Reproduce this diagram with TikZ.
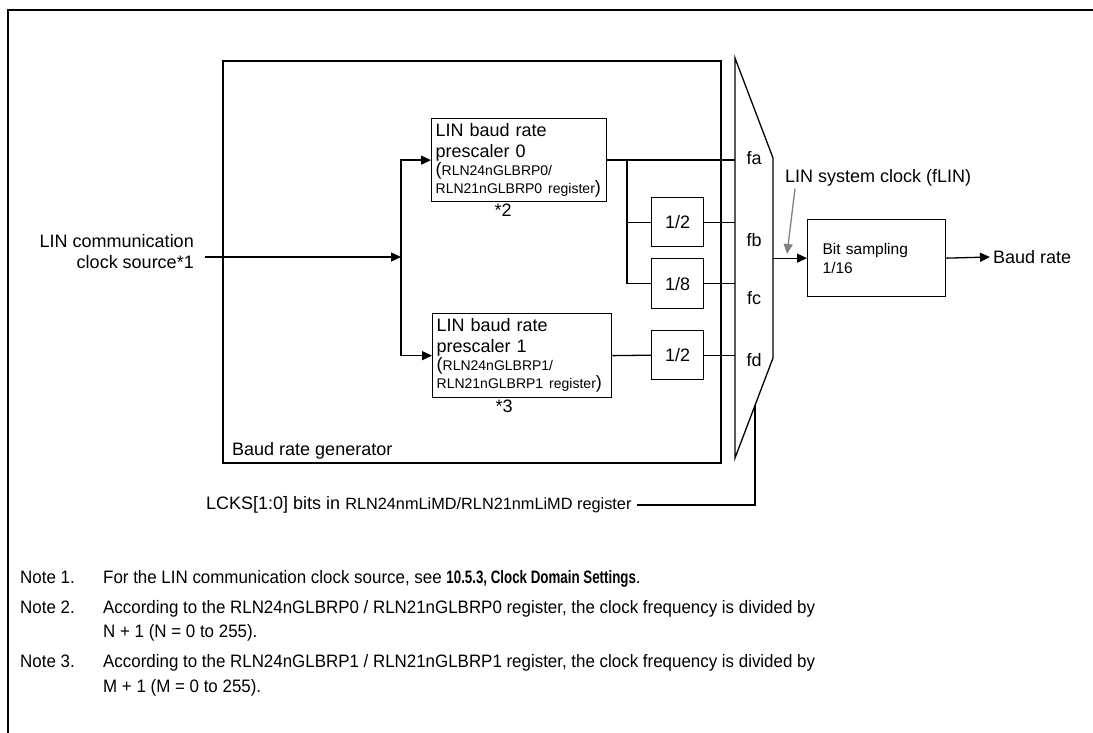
\documentclass[tikz,border=0pt]{standalone}
\usepackage{fontspec}
\setmainfont{Liberation Sans}
\newfontfamily\narrowfont[FakeStretch=0.94]{Liberation Sans}
\newfontfamily\narrowbold[FakeStretch=0.74]{Liberation Sans}
\usetikzlibrary{arrows.meta, positioning, math}
\newcommand\regsize{\fontsize{14}{17}\selectfont}

\begin{document}
\begin{tikzpicture}[x=1pt, y=-1pt,
  font=\fontsize{18}{21}\selectfont,
  blk/.style={draw, line width=1.3pt, inner sep=0pt, anchor=north west},
  wire/.style={line width=1.3pt},
  arr/.style={wire, -{Triangle[length=10pt, width=9pt]}},
  note/.style={anchor=base west, inner sep=0pt, font=\narrowfont\fontsize{18}{21}\selectfont}]
\tikzmath{
\mL=735; \mR=773;
}
\useasboundingbox (0,0) rectangle (1093,733);

% outer frame (top and left only)
\draw[line width=2.5pt] (8,733) -- (8,10) -- (1093,10);

%%%%%%%%%% baud rate generator
\draw[wire] (223,61) rectangle (721,463);
\node[anchor=base west, inner sep=0pt] (genlbl) at (232,455) {Baud rate generator};

\node[blk, minimum width=171, minimum height=83, text width=167, inner xsep=4pt, align=left] (pre0) at (431,118)
  {LIN baud rate\\ prescaler 0\\[-3pt] ({\regsize RLN24nGLBRP0/}\\[-3pt] {\regsize RLN21nGLBRP0 register})};
\node[below=1pt of pre0, xshift=-16pt, inner sep=0pt] (st2) {*2};

\node[blk, minimum width=175, minimum height=84, text width=171, inner xsep=4pt, align=left] (pre1) at (432,313)
  {LIN baud rate\\ prescaler 1\\[-3pt] ({\regsize RLN24nGLBRP1/}\\[-3pt] {\regsize RLN21nGLBRP1 register})};
\node[below=1pt of pre1, xshift=-18pt, inner sep=0pt] (st3) {*3};

\node[blk, minimum width=52, minimum height=49] (div2a) at (651,197) {1/2};
\node[blk, minimum width=52, minimum height=50] (div8) at (651,258) {1/8};
\node[blk, minimum width=52, minimum height=49] (div2b) at (651,330) {1/2};

%%%%%%%%%% selector
\draw[wire] (\mL,58) coordinate (muxtl) -- (\mR,158) -- (\mR,358) -- (\mL,458) -- cycle;
\node (fa) at (754,158) {fa};
\node (fb) at (754,240) {fb};
\node (fc) at (754,298) {fc};
\node (fd) at (754,360) {fd};
\coordinate (muxout) at (\mR,257);
\coordinate (sel) at (755,405);

%%%%%%%%%% input side
\node[anchor=east, align=right, inner sep=0pt] (src) at (194,252) {LIN communication\\ clock source*1};
\coordinate (jin) at (401,257);
\draw[arr] ([xshift=11pt]src.east |- jin) -- (jin);
\draw[arr] (jin) |- (pre0.west);
\draw[arr] (jin) |- (pre1.west);

%%%%%%%%%% dividers
\coordinate (jdiv) at (627,159.5);
\draw[wire] (pre0.east) -- (pre0.east -| muxtl);
\draw[wire] (jdiv) |- (div8.west);
\draw[wire] (jdiv |- div2a.west) -- (div2a.west);
\draw[wire] (div2a.east) -- (div2a.east -| muxtl);
\draw[wire] (div8.east) -- (div8.east -| muxtl);
\draw[wire] (pre1.east) -- (div2b.west);
\draw[wire] (div2b.east) -- (div2b.east -| muxtl);

%%%%%%%%%% bit sampling
\node[blk, minimum width=138, minimum height=77, text width=138, inner xsep=0pt, align=left,
  font=\fontsize{15.5}{19}\selectfont] (bit) at (807,219) {\hspace*{15pt}Bit sampling\\ \hspace*{15pt}1/16};
\draw[arr] (muxout |- bit.west) -- (bit.west);
\node[anchor=west, inner sep=3pt] (rate) at (990,257) {Baud rate};
\draw[arr] (bit.east) -- (rate.west);

\node[anchor=west, inner sep=2pt] (flbl) at (783,178) {LIN system clock (fLIN)};
\coordinate (flin) at (787,254);
\draw[line width=1.3pt, gray, -{Triangle[length=10pt, width=9pt]}] ([xshift=12pt]flbl.south west) -- (flin);

%%%%%%%%%% select bits
\node[anchor=west, inner sep=0pt] (lcks) at (206,505) {LCKS[1:0] bits in {\fontsize{16.3}{18}\selectfont RLN24nmLiMD/RLN21nmLiMD register}};
\draw[wire] ([xshift=5pt]lcks.east) -| (sel);

%%%%%%%%%% notes
\node[note] (n1) at (20,583) {Note 1.};
\node[note] (n1t) at (103,583) {For the LIN communication clock source, see {\narrowbold\bfseries 10.5.3, Clock Domain Settings}.};
\node[note] (n2) at (20,613) {Note 2.};
\node[note] (n2t) at (103,613) {According to the RLN24nGLBRP0 / RLN21nGLBRP0 register, the clock frequency is divided by};
\node[note] (n2u) at (103,637) {N + 1 (N = 0 to 255).};
\node[note] (n3) at (20,667) {Note 3.};
\node[note] (n3t) at (103,667) {According to the RLN24nGLBRP1 / RLN21nGLBRP1 register, the clock frequency is divided by};
\node[note] (n3u) at (103,692) {M + 1 (M = 0 to 255).};
\end{tikzpicture}
\end{document}
